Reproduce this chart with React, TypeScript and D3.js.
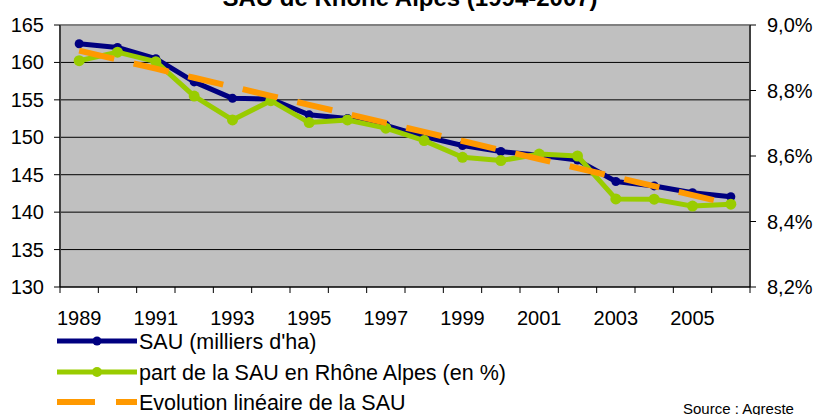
import React from "react";
import * as d3 from "d3";

const years = [1989,1990,1991,1992,1993,1994,1995,1996,1997,1998,1999,2000,2001,2002,2003,2004,2005,2006];
const sau = [162.5,162.0,160.5,157.4,155.2,155.1,153.0,152.5,151.6,150.1,148.9,148.1,147.6,146.95,144.1,143.5,142.6,142.05];
const part = [8.891,8.917,8.888,8.783,8.71,8.769,8.702,8.71,8.685,8.647,8.596,8.586,8.606,8.6,8.469,8.468,8.447,8.453];
const leftTicks = [130,135,140,145,150,155,160,165];
const rightTicks = [8.2,8.4,8.6,8.8,9.0];
const xLabelYears = [1989,1991,1993,1995,1997,1999,2001,2003,2005];
const title = "SAU de Rhône Alpes (1994-2007)";
const legendLabels = ["SAU (milliers d'ha)", "part de la SAU en Rhône Alpes (en %)", "Evolution linéaire de la SAU"];
const source = "Source : Agreste";

const NAVY = "#000080";
const GREEN = "#99CC00";
const ORANGE = "#FF9900";
const FONT = "'Liberation Sans', Arial, sans-serif";

export default function App() {
  const L = 60, R = 750, T = 25, B = 287;
  const x = d3.scaleBand<number>().domain(years).range([L, R]).padding(0);
  const cx = (yr: number) => (x(yr) as number) + x.bandwidth() / 2;
  const yL = d3.scaleLinear().domain([130, 165]).range([B, T]);
  const yR = d3.scaleLinear().domain([8.2, 9.0]).range([B, T]);

  // linear trend (least squares) of SAU
  const n = sau.length;
  const idx = d3.range(n);
  const mx = d3.mean(idx) as number;
  const my = d3.mean(sau) as number;
  const slope = d3.sum(idx, (i) => (i - mx) * (sau[i] - my)) / d3.sum(idx, (i) => (i - mx) * (i - mx));
  const trend = idx.map((i) => my + slope * (i - mx));

  const lineL = d3.line<number>().x((_, i) => cx(years[i])).y((d) => yL(d));
  const lineR = d3.line<number>().x((_, i) => cx(years[i])).y((d) => yR(d));

  const boundaries = d3.range(years.length + 1).map((i) => L + i * x.bandwidth());
  const fmtPct = (v: number) => v.toFixed(1).replace(".", ",") + "%";

  const legendY = [341, 372, 402];

  return (
    <svg width={816} height={415} style={{ position: "absolute", left: 0, top: 0 }} fontFamily={FONT}>
      <rect x={0} y={0} width={816} height={415} fill="#fff" />
      <text x={410} y={6} textAnchor="middle" fontSize={24} fontWeight="bold" fill="#000">{title}</text>
      <rect x={L} y={T} width={R - L} height={B - T} fill="#C0C0C0" />
      {leftTicks.slice(1, -1).map((t) => (
        <line key={t} x1={L} x2={R} y1={yL(t)} y2={yL(t)} stroke="#000" strokeWidth={1} />
      ))}
      {/* borders */}
      <line x1={L} x2={R} y1={T} y2={T} stroke="#808080" strokeWidth={2} />
      <line x1={R} x2={R} y1={T} y2={B} stroke="#404040" strokeWidth={2} />
      <line x1={L} x2={L} y1={T} y2={B} stroke="#404040" strokeWidth={2} />
      <line x1={L} x2={R} y1={B} y2={B} stroke="#000" strokeWidth={1.5} />
      {/* left ticks */}
      {leftTicks.map((t) => (
        <g key={t}>
          <line x1={L - 6} x2={L} y1={yL(t)} y2={yL(t)} stroke="#000" />
          <text x={44} y={yL(t)} dy="0.35em" textAnchor="end" fontSize={20} fill="#000">{t}</text>
        </g>
      ))}
      {/* right ticks */}
      {rightTicks.map((t) => (
        <g key={t}>
          <line x1={R} x2={R + 6} y1={yR(t)} y2={yR(t)} stroke="#000" />
          <text x={767} y={yR(t)} dy="0.35em" textAnchor="start" fontSize={20} fill="#000">{fmtPct(t)}</text>
        </g>
      ))}
      {/* bottom ticks */}
      {boundaries.map((b, i) => (
        <line key={i} x1={b} x2={b} y1={B} y2={B + 6} stroke="#000" />
      ))}
      {xLabelYears.map((yr) => (
        <text key={yr} x={cx(yr)} y={325} textAnchor="middle" fontSize={20} fill="#000">{yr}</text>
      ))}
      {/* series */}
      <path d={lineL(sau) as string} fill="none" stroke={NAVY} strokeWidth={5} strokeLinejoin="round" />
      {sau.map((v, i) => (
        <circle key={"n" + i} cx={cx(years[i])} cy={yL(v)} r={4.5} fill={NAVY} />
      ))}
      <path d={lineR(part) as string} fill="none" stroke={GREEN} strokeWidth={5} strokeLinejoin="round" />
      {part.map((v, i) => (
        <circle key={"g" + i} cx={cx(years[i])} cy={yR(v)} r={5.5} fill={GREEN} />
      ))}
      <path d={lineL(trend) as string} fill="none" stroke={ORANGE} strokeWidth={6} strokeDasharray="36,20" />
      {/* legend */}
      <line x1={57} x2={137} y1={legendY[0]} y2={legendY[0]} stroke={NAVY} strokeWidth={5} />
      <circle cx={97} cy={legendY[0]} r={4.5} fill={NAVY} />
      <line x1={57} x2={137} y1={legendY[1]} y2={legendY[1]} stroke={GREEN} strokeWidth={5} />
      <circle cx={97} cy={legendY[1]} r={5} fill={GREEN} />
      <line x1={57} x2={137} y1={legendY[2]} y2={legendY[2]} stroke={ORANGE} strokeWidth={6} strokeDasharray="38,21" />
      {legendLabels.map((s, i) => (
        <text key={s} x={139} y={legendY[i]} dy="0.35em" fontSize={21.5} fill="#000">{s}</text>
      ))}
      <text x={683} y={414} fontSize={15} fill="#000">{source}</text>
    </svg>
  );
}
